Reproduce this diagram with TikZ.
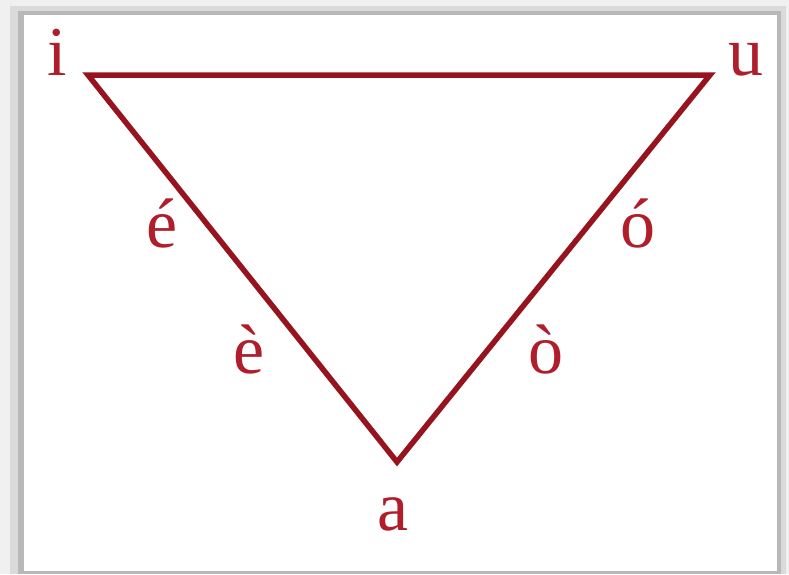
\documentclass[tikz,border=0pt]{standalone}
\usepackage{fontspec}
\setmainfont{Liberation Serif}
\definecolor{vred}{RGB}{150,20,30}
\definecolor{tred}{RGB}{175,30,42}
\definecolor{sh1}{RGB}{240,240,240}
\definecolor{sh2}{RGB}{218,218,218}
\definecolor{sh3}{RGB}{184,184,184}
\begin{document}
\begin{tikzpicture}[x=1pt,y=-1pt,
  edge/.style={draw=vred,line width=5.5pt,line join=miter},
  vowel/.style={text=tred,anchor=base,inner sep=0pt,font=\fontsize{70}{84}\selectfont}]
\useasboundingbox (0,0) rectangle (789,574);
% frame and shadow
\fill[sh1] (0,0) rectangle (789,574);
\fill[sh2] (10,6) rectangle (786,574);
\fill[sh3] (18,11) rectangle (781,574);
\fill[white] (24,15) rectangle (777,571);
% vertices
\coordinate (I) at (88,75);
\coordinate (U) at (710,75);
\coordinate (A) at (397,462);
\draw[edge] (I) -- (U) -- (A) -- cycle;
% labels
\node[vowel] (li) at (57,75) {i};
\node[vowel] (lu) at (746,75) {u};
\node[vowel] (la) at (393,530) {a};
\node[vowel] (le1) at (162,247) {é};
\node[vowel] (le2) at (249,373) {è};
\node[vowel] (lo1) at (638,247) {ó};
\node[vowel] (lo2) at (546,373) {ò};
\end{tikzpicture}
\end{document}
